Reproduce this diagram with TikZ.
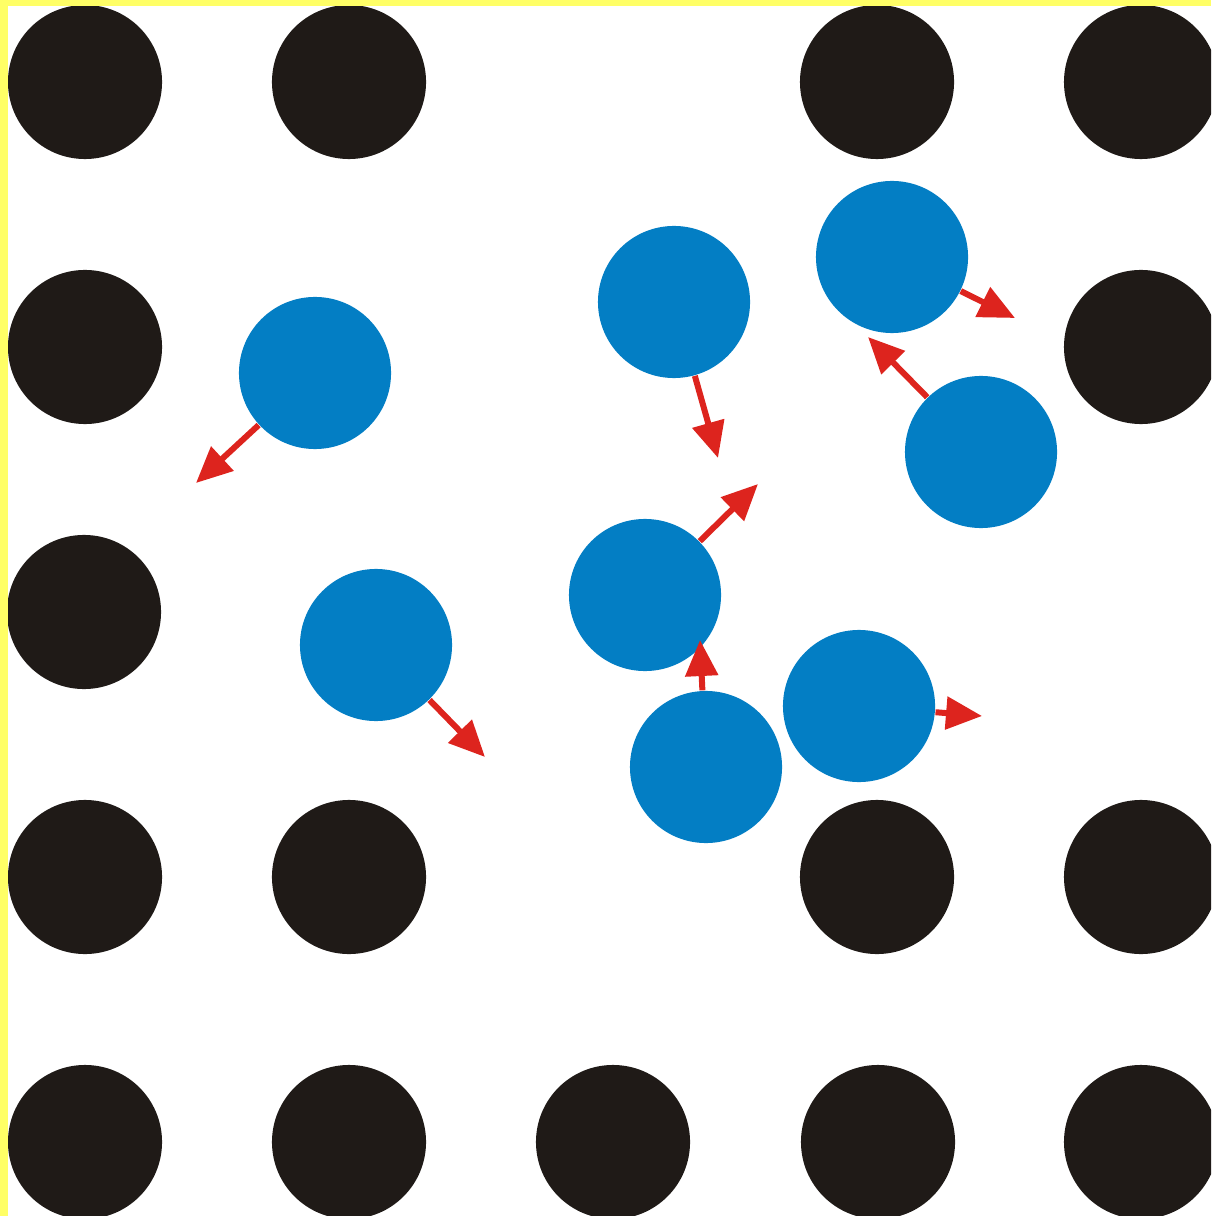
\documentclass[tikz,border=0pt]{standalone}
\usepackage{tikz}
\usetikzlibrary{arrows.meta}
\usepackage{xcolor}
\definecolor{ionblack}{RGB}{31,26,23}
\definecolor{freeblue}{RGB}{3,126,196}
\definecolor{kickred}{RGB}{221,36,30}
\definecolor{rimyellow}{RGB}{255,255,102}

\begin{document}
\begin{tikzpicture}[x=0.01cm, y=-0.01cm, >={Triangle[length=3.6mm, width=3.2mm]},
  ion/.style={circle, fill=ionblack, minimum size=1.54cm, inner sep=0pt},
  free/.style={circle, fill=freeblue, minimum size=1.52cm, inner sep=0pt},
  kick/.style={->, kickred, line width=0.06cm}]
\useasboundingbox (0,0) rectangle (1211,1216);
\clip (0,0) rectangle (1211,1216);
% fixed lattice
\node[ion] (i11) at (85,82) {};
\node[ion] (i12) at (349,82) {};
\node[ion] (i14) at (877,82) {};
\node[ion] (i15) at (1141,82) {};
\node[ion] (i21) at (85,347) {};
\node[ion] (i25) at (1141,347) {};
\node[ion] (i31) at (84,612) {};
\node[ion] (i41) at (85,877) {};
\node[ion] (i42) at (349,877) {};
\node[ion] (i44) at (877,877) {};
\node[ion] (i45) at (1141,877) {};
\node[ion] (i51) at (85,1142) {};
\node[ion] (i52) at (349,1142) {};
\node[ion] (i53) at (613,1142) {};
\node[ion] (i54) at (878,1142) {};
\node[ion] (i55) at (1141,1142) {};
% moving particles
\node[free] (f1) at (315,373) {};
\node[free] (f2) at (674,302) {};
\node[free] (f3) at (892,257) {};
\node[free] (f4) at (981,452) {};
\node[free] (f5) at (645,595) {};
\node[free] (f6) at (376,645) {};
\node[free] (f7) at (859,706) {};
\node[free] (f8) at (706,767) {};
% arrow tips
\coordinate (t1) at (196,483);
\coordinate (t2) at (718,458);
\coordinate (t3) at (1015,318);
\coordinate (t4) at (868,337);
\coordinate (t5) at (758,484);
\coordinate (t6) at (485,757);
\coordinate (t7) at (982,716);
\coordinate (t8) at (700,640);
\draw[kick] (f1) -- (t1);
\draw[kick] (f2) -- (t2);
\draw[kick] (f3) -- (t3);
\draw[kick] (f4) -- (t4);
\draw[kick] (f5) -- (t5);
\draw[kick] (f6) -- (t6);
\draw[kick] (f7) -- (t7);
\draw[kick] (f8) -- (t8);
% frame
\fill[rimyellow] (0,0) rectangle (8,1216);
\fill[rimyellow] (0,0) rectangle (1211,6);
\end{tikzpicture}
\end{document}
